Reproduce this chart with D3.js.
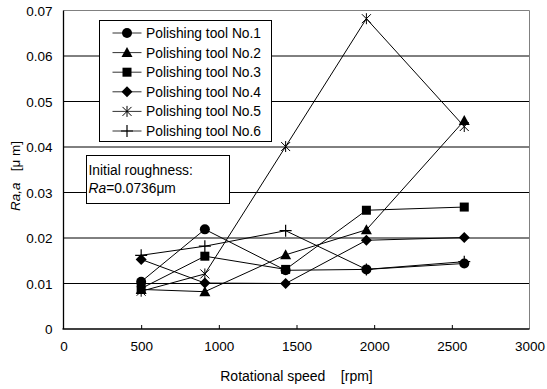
<!DOCTYPE html>
<html>
<head>
<meta charset="utf-8">
<script src="https://cdn.jsdelivr.net/npm/d3@7"></script>
<style>
  body { margin: 0; background: #fff; }
  svg { font-family: "Liberation Sans", Arial, sans-serif; }
</style>
</head>
<body>
<div id="chart"></div>
<script>
// data
var speeds = [500, 910, 1430, 1950, 2580];
var tool1 = [0.0104, 0.0219, 0.0129, 0.0131, 0.0144];
var tool2 = [0.0087, 0.0082, 0.0163, 0.0218, 0.0458];
var tool3 = [0.0089, 0.0160, 0.0131, 0.0261, 0.0268];
var tool4 = [0.0153, 0.0101, 0.0100, 0.0195, 0.0201];
var tool5 = [0.0083, 0.0121, 0.0401, 0.0682, 0.0445];
var tool6 = [0.0162, 0.0182, 0.0216, 0.0131, 0.0148];
var seriesNames = ["Polishing tool No.1", "Polishing tool No.2", "Polishing tool No.3",
                   "Polishing tool No.4", "Polishing tool No.5", "Polishing tool No.6"];
var xTicks = [0, 500, 1000, 1500, 2000, 2500, 3000];
var yTicks = [0, 0.01, 0.02, 0.03, 0.04, 0.05, 0.06, 0.07];

var allSeries = [tool1, tool2, tool3, tool4, tool5, tool6];
var markerKinds = ["circle", "triangle", "square", "diamond", "asterisk", "plus"];

var svgWidth = 547, svgHeight = 389;
var margin = { top: 10.5, right: 17.5, bottom: 60, left: 63.5 };
var chartWidth = svgWidth - margin.left - margin.right;
var chartHeight = svgHeight - margin.top - margin.bottom;

var svg = d3.select("#chart").append("svg")
    .attr("width", svgWidth)
    .attr("height", svgHeight);

var chartGroup = svg.append("g")
    .attr("transform", `translate(${margin.left}, ${margin.top})`);

var xScale = d3.scaleLinear().domain([0, 3000]).range([0, chartWidth]);
var yScale = d3.scaleLinear().domain([0, 0.07]).range([chartHeight, 0]);

// gridlines
chartGroup.append("g")
    .selectAll("line")
    .data(yTicks.filter(d => d > 0 && d < 0.07))
    .enter().append("line")
    .attr("x1", 0).attr("x2", chartWidth)
    .attr("y1", d => yScale(d)).attr("y2", d => yScale(d))
    .attr("stroke", "#000").attr("stroke-width", 1);

// top and right border (grey)
chartGroup.append("path")
    .attr("d", `M0,0H${chartWidth}V${chartHeight}`)
    .attr("fill", "none").attr("stroke", "#808080").attr("stroke-width", 1);

// axes
var xAxis = d3.axisBottom(xScale).tickValues(xTicks).tickSize(-4).tickPadding(12)
    .tickFormat(d3.format("d"));
var yAxis = d3.axisLeft(yScale).tickValues(yTicks).tickSize(0).tickPadding(11)
    .tickFormat(d => d === 0 ? "0" : d3.format(".2f")(d));

var xg = chartGroup.append("g")
    .attr("transform", `translate(0, ${chartHeight})`)
    .call(xAxis);
var yg = chartGroup.append("g").call(yAxis);

[xg, yg].forEach(g => {
    g.select(".domain").attr("stroke", "#000").attr("stroke-width", 1.3);
    g.selectAll(".tick line").attr("stroke", "#000");
    g.selectAll("text").attr("font-size", 13.5).attr("fill", "#000")
        .attr("font-family", "Liberation Sans, Arial, sans-serif");
});
xg.select(".domain").attr("d", `M-1,0H${chartWidth}`);
yg.select(".domain").attr("d", `M0,0V${chartHeight}`);
xg.selectAll(".tick").filter(d => d === 0 || d === 3000).select("line").remove();
yg.selectAll(".tick text").attr("dy", "0.35em");

// marker shapes
function drawMarker(sel, kind) {
    if (kind === "circle") {
        sel.append("circle").attr("r", 5).attr("fill", "#000");
    } else if (kind === "square") {
        sel.append("rect").attr("x", -4.5).attr("y", -4.5).attr("width", 9).attr("height", 9).attr("fill", "#000");
    } else if (kind === "triangle") {
        sel.append("path").attr("d", "M0,-5.5L5.5,4.5L-5.5,4.5Z").attr("fill", "#000");
    } else if (kind === "diamond") {
        sel.append("path").attr("d", "M0,-5.5L5.5,0L0,5.5L-5.5,0Z").attr("fill", "#000");
    } else if (kind === "asterisk") {
        sel.append("path").attr("d", "M-4.5,-4.5L4.5,4.5M4.5,-4.5L-4.5,4.5M0,-5.5V5.5")
            .attr("stroke", "#000").attr("stroke-width", 1).attr("fill", "none");
    } else if (kind === "plus") {
        sel.append("path").attr("d", "M-6,0H6M0,-6V6")
            .attr("stroke", "#000").attr("stroke-width", 1.2).attr("fill", "none");
    }
}

var line = d3.line()
    .x((d, i) => xScale(speeds[i]))
    .y(d => yScale(d));

allSeries.forEach((vals, s) => {
    chartGroup.append("path")
        .datum(vals)
        .attr("d", line)
        .attr("fill", "none")
        .attr("stroke", "#000")
        .attr("stroke-width", 1);
});

allSeries.forEach((vals, s) => {
    chartGroup.selectAll(null)
        .data(vals)
        .enter().append("g")
        .attr("transform", (d, i) => `translate(${xScale(speeds[i])}, ${yScale(d)})`)
        .each(function() { drawMarker(d3.select(this), markerKinds[s]); });
});

// legend
var legend = svg.append("g").attr("transform", "translate(99.5, 20.5)");
legend.append("rect")
    .attr("width", 172).attr("height", 121)
    .attr("fill", "#fff").attr("stroke", "#000").attr("stroke-width", 1);
seriesNames.forEach((name, i) => {
    var row = legend.append("g").attr("transform", `translate(0, ${12.5 + i * 19.6})`);
    row.append("line").attr("x1", 13).attr("x2", 42).attr("y1", 0).attr("y2", 0)
        .attr("stroke", "#333").attr("stroke-width", 1);
    drawMarker(row.append("g").attr("transform", "translate(27.5, 0)"), markerKinds[i]);
    row.append("text").attr("x", 46.5).attr("y", 0).attr("dy", "0.36em")
        .attr("font-size", 13.8).text(name);
});

// annotation box
var note = svg.append("g").attr("transform", "translate(86.5, 155.5)");
note.append("rect").attr("width", 143).attr("height", 48)
    .attr("fill", "#fff").attr("stroke", "#000").attr("stroke-width", 1);
note.append("text").attr("x", 2).attr("y", 19).attr("font-size", 13.8).text("Initial roughness:");
var t2 = note.append("text").attr("x", 2).attr("y", 37).attr("font-size", 13.8);
t2.append("tspan").attr("font-style", "italic").text("Ra");
t2.append("tspan").text("=0.0736\u03bcm");

// axis titles
svg.append("text")
    .attr("x", margin.left + chartWidth / 2).attr("y", 381)
    .attr("text-anchor", "middle").attr("font-size", 14)
    .attr("xml:space", "preserve")
    .text("Rotational speed    [rpm]");

var yTitle = svg.append("text")
    .attr("transform", "translate(20, 176) rotate(-90)")
    .attr("text-anchor", "middle").attr("font-size", 13.5)
    .attr("xml:space", "preserve");
yTitle.append("tspan").attr("font-style", "italic").text("Ra,a");
yTitle.append("tspan").text("   [\u03bc m]");
</script>
</body>
</html>
